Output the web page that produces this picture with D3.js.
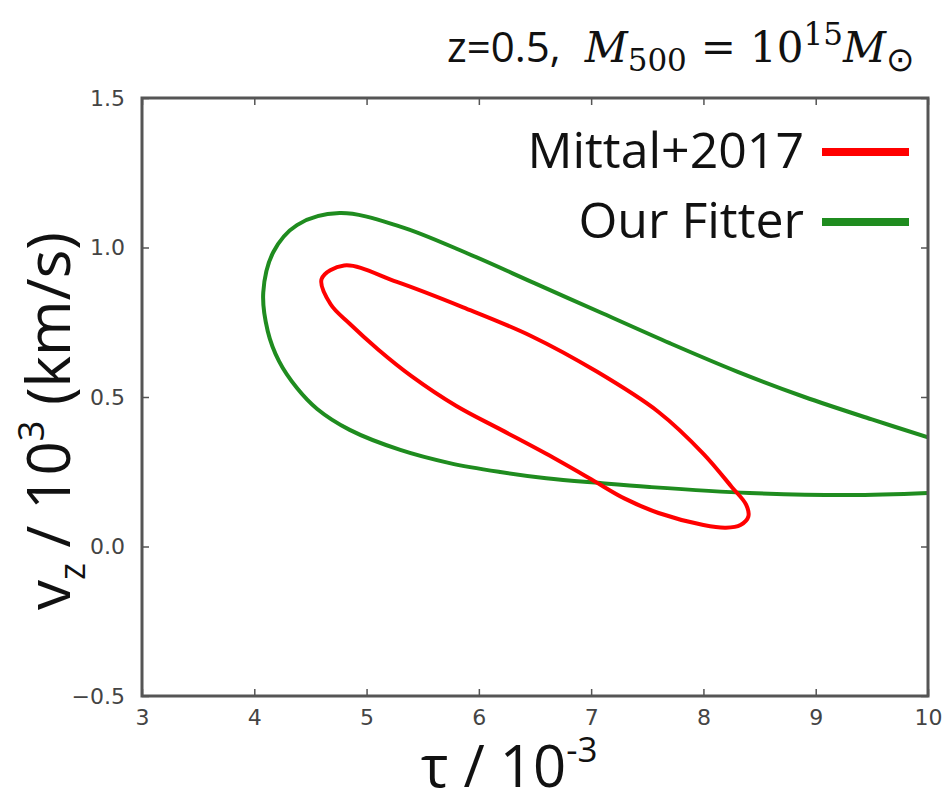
<!DOCTYPE html>
<html>
<head>
<meta charset="utf-8">
<script src="https://cdn.jsdelivr.net/npm/d3@7"></script>
<style>
  body { margin: 0; background: #fff; }
</style>
</head>
<body>
<svg id="chart"></svg>
<script>
// set svg params

var svgWidth = 945, svgHeight = 793;
var plotLeft = 142, plotRight = 928, plotTop = 98, plotBottom = 696;

// data

var xTicks = [3, 4, 5, 6, 7, 8, 9, 10];
var yTicks = [-0.5, 0.0, 0.5, 1.0, 1.5];

// Mittal+2017 contour, closed, starting at the left tip and going along the upper edge
var mittalTau = [4.60, 4.80, 5.27, 5.86, 6.46, 7.05, 7.6, 8.0, 8.25, 8.38, 8.40, 8.33, 8.2, 8.0, 7.6, 7.3, 7.0, 6.6, 6.2, 5.8, 5.4, 5.1, 4.85, 4.68];
var mittalV   = [0.895, 0.94, 0.885, 0.80, 0.705, 0.585, 0.45, 0.31, 0.20, 0.14, 0.10, 0.072, 0.063, 0.072, 0.112, 0.16, 0.225, 0.31, 0.39, 0.47, 0.57, 0.66, 0.745, 0.81];

// Our Fitter contour, open, from the right edge along the top, round the left and back
var fitterTau = [10.0, 9.5, 8.9, 8.3, 7.7, 7.1, 6.5, 5.9, 5.3, 4.76, 4.38, 4.17, 4.08, 4.12, 4.22, 4.38, 4.56, 4.85, 5.30, 5.74, 6.19, 6.6, 7.08, 7.52, 8.41, 9.30, 10.0];
var fitterV   = [0.365, 0.425, 0.50, 0.585, 0.68, 0.78, 0.88, 0.98, 1.07, 1.115, 1.075, 0.985, 0.85, 0.72, 0.62, 0.53, 0.46, 0.39, 0.323, 0.279, 0.249, 0.228, 0.212, 0.199, 0.179, 0.172, 0.179];

var seriesNames = ["Mittal+2017", "Our Fitter"];
var colors = ["#ff0000", "#1f8c1f"];

var xScale = d3.scaleLinear().domain([3, 10]).range([plotLeft, plotRight]);
var yScale = d3.scaleLinear().domain([-0.5, 1.5]).range([plotBottom, plotTop]);

var svg = d3.select("#chart")
    .attr("width", svgWidth)
    .attr("height", svgHeight)
    .style("font-family", "'DejaVu Sans', sans-serif");

svg.append("clipPath").attr("id", "plotclip")
  .append("rect")
    .attr("x", plotLeft).attr("y", plotTop)
    .attr("width", plotRight - plotLeft).attr("height", plotBottom - plotTop);

// curves

var mittal = mittalTau.map(function (d, i) { return [d, mittalV[i]]; });
var fitter = fitterTau.map(function (d, i) { return [d, fitterV[i]]; });

var closedLine = d3.line()
    .x(function (d) { return xScale(d[0]); })
    .y(function (d) { return yScale(d[1]); })
    .curve(d3.curveCatmullRomClosed.alpha(0.5));

var openLine = d3.line()
    .x(function (d) { return xScale(d[0]); })
    .y(function (d) { return yScale(d[1]); })
    .curve(d3.curveCatmullRom.alpha(0.5));

var curves = svg.append("g").attr("clip-path", "url(#plotclip)");

curves.append("path")
    .attr("d", openLine(fitter))
    .attr("fill", "none")
    .attr("stroke", colors[1])
    .attr("stroke-width", 4);

curves.append("path")
    .attr("d", closedLine(mittal))
    .attr("fill", "none")
    .attr("stroke", colors[0])
    .attr("stroke-width", 4);

// axes, ticks inside on all four sides

var axisColor = "#555";

svg.append("g")
    .attr("transform", "translate(0," + plotBottom + ")")
    .call(d3.axisBottom(xScale).tickValues(xTicks).tickSizeInner(-7).tickSizeOuter(0).tickPadding(13).tickFormat(d3.format("d")));

svg.append("g")
    .attr("transform", "translate(0," + plotTop + ")")
    .call(d3.axisTop(xScale).tickValues(xTicks).tickSizeInner(-7).tickSizeOuter(0).tickFormat(""));

svg.append("g")
    .attr("transform", "translate(" + plotLeft + ",0)")
    .call(d3.axisLeft(yScale).tickValues(yTicks).tickSizeInner(-7).tickSizeOuter(0).tickPadding(17).tickFormat(d3.format(".1f")));

svg.append("g")
    .attr("transform", "translate(" + plotRight + ",0)")
    .call(d3.axisRight(yScale).tickValues(yTicks).tickSizeInner(-7).tickSizeOuter(0).tickFormat(""));

svg.selectAll(".domain").remove();
svg.selectAll(".tick line").attr("stroke", axisColor).attr("stroke-width", 1.5);
svg.selectAll(".tick text")
    .attr("fill", "#444")
    .style("font-size", "22px")
    .style("font-family", "'DejaVu Sans', sans-serif");

svg.append("rect")
    .attr("x", plotLeft).attr("y", plotTop)
    .attr("width", plotRight - plotLeft).attr("height", plotBottom - plotTop)
    .attr("fill", "none")
    .attr("stroke", axisColor)
    .attr("stroke-width", 3);

// legend

var legend = svg.append("g").style("font-family", "'Open Sans', sans-serif");
var legendY = [152, 222];

seriesNames.forEach(function (name, i) {
  legend.append("text")
      .attr("x", 804)
      .attr("y", legendY[i] + 16)
      .attr("text-anchor", "end")
      .style("font-size", "50px")
      .attr("fill", "#111")
      .text(name);
  legend.append("line")
      .attr("x1", 822).attr("x2", 909)
      .attr("y1", legendY[i]).attr("y2", legendY[i])
      .attr("stroke", colors[i])
      .attr("stroke-width", 8);
});

// axis labels

var xLabel = svg.append("text")
    .attr("x", 421).attr("y", 787)
    .style("font-family", "'Open Sans', sans-serif")
    .style("font-size", "58px")
    .attr("fill", "#111");
xLabel.append("tspan").text("τ / 10");
xLabel.append("tspan").attr("dy", -25).style("font-size", "35px").text("-3");

var yLabel = svg.append("text")
    .attr("transform", "translate(70,421) rotate(-90)")
    .attr("text-anchor", "middle")
    .style("font-family", "'Open Sans', sans-serif")
    .style("font-size", "60px")
    .attr("fill", "#111");
yLabel.append("tspan").text("v");
yLabel.append("tspan").attr("dy", 15).style("font-size", "36px").text("z");
yLabel.append("tspan").attr("dy", -15).text(" / 10");
yLabel.append("tspan").attr("dy", -26).style("font-size", "36px").text("3");
yLabel.append("tspan").attr("dy", 26).text(" (km/s)");

// title

var title = svg.append("text")
    .attr("x", 447).attr("y", 62)
    .style("font-size", "42px")
    .attr("fill", "#111");
title.append("tspan").style("font-family", "'Open Sans', sans-serif").text("z=0.5,");
title.append("tspan").attr("dx", 24).style("font-family", "'DejaVu Serif', serif").style("font-style", "italic").text("M");
title.append("tspan").attr("dy", 9).style("font-family", "'DejaVu Serif', serif").style("font-size", "31px").text("500");
title.append("tspan").attr("dy", -9).attr("dx", 14).style("font-family", "'DejaVu Serif', serif").text("=");
title.append("tspan").attr("dx", 14).style("font-family", "'DejaVu Serif', serif").text("10");
title.append("tspan").attr("dy", -17).style("font-family", "'DejaVu Serif', serif").style("font-size", "31px").text("15");
title.append("tspan").attr("dy", 17).style("font-family", "'DejaVu Serif', serif").style("font-style", "italic").text("M");
title.append("tspan").attr("dy", 9).style("font-family", "'DejaVu Sans', sans-serif").style("font-size", "34px").text("⊙");
</script>
</body>
</html>
